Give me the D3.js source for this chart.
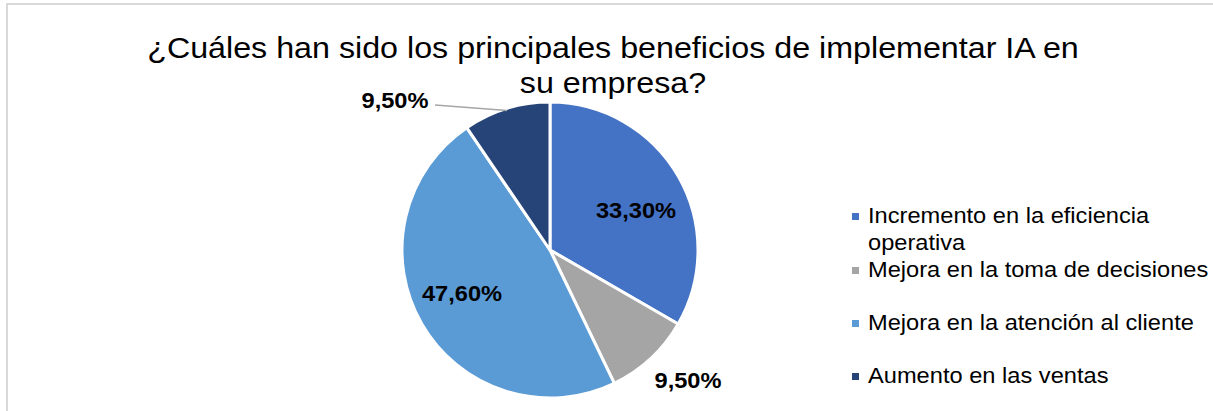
<!DOCTYPE html>
<html>
<head>
<meta charset="utf-8">
<script src="https://cdn.jsdelivr.net/npm/d3@7"></script>
<style>
  body { margin: 0; background: #fff; }
  svg text { font-family: "Liberation Sans", Arial, sans-serif; }
</style>
</head>
<body>
<svg id="chart" width="1213" height="411"></svg>
<script>
// Data
var categories = [
  "Incremento en la eficiencia operativa",
  "Mejora en la toma de decisiones",
  "Mejora en la atención al cliente",
  "Aumento en las ventas"
];
var values = [33.3, 9.5, 47.6, 9.5];
var labels = ["33,30%", "9,50%", "47,60%", "9,50%"];
var colors = ["#4472C4", "#A5A5A5", "#5B9BD5", "#264478"];
var legendLines = [["Incremento en la eficiencia", "operativa"], ["Mejora en la toma de decisiones"], ["Mejora en la atención al cliente"], ["Aumento en las ventas"]];

// text in the original is a bit wider than the font we have
var stretch = 1.075;

var svg = d3.select("#chart");

// chart area border
svg.append("path")
   .attr("d", "M7,411 V4 H1213")
   .attr("fill", "none")
   .attr("stroke", "#d9d9d9")
   .attr("stroke-width", 2);

// title
var titleLines = ["¿Cuáles han sido los principales beneficios de implementar IA en", "su empresa?"];
titleLines.forEach(function(line, i) {
  svg.append("text")
     .attr("transform", "translate(613," + (58 + i * 35) + ") scale(" + stretch + ",1)")
     .attr("text-anchor", "middle")
     .attr("font-size", 30)
     .attr("fill", "#000")
     .text(line);
});

var cx = 550, cy = 250, r = 148;

var pie = d3.pie().sort(null).value(d => d);
var arcs = pie(values);
var arc = d3.arc().innerRadius(0).outerRadius(r);

var g = svg.append("g").attr("transform", "translate(" + cx + "," + cy + ")");

g.selectAll("path.slice")
  .data(arcs)
  .enter()
  .append("path")
  .attr("class", "slice")
  .attr("d", arc)
  .attr("fill", (d, i) => colors[i])
  .attr("stroke", "#fff")
  .attr("stroke-width", 3)
  .attr("stroke-linejoin", "round");

// data label positions (relative to centre), as placed in the original
var labelPos = [[86, -40], [138, 130], [-88, 43], [-155, -150]];

g.selectAll("text.lbl")
  .data(arcs)
  .enter()
  .append("text")
  .attr("class", "lbl")
  .attr("transform", (d, i) => "translate(" + labelPos[i][0] + "," + labelPos[i][1] + ") scale(" + stretch + ",1)")
  .attr("text-anchor", "middle")
  .attr("dy", "0.35em")
  .attr("font-size", 22)
  .attr("font-weight", "bold")
  .attr("fill", "#000")
  .text((d, i) => labels[i]);

// leader line for the last slice
var a4 = (arcs[3].startAngle + arcs[3].endAngle) / 2;
var edge = [Math.sin(a4) * (r - 2), -Math.cos(a4) * (r - 2)];
g.append("polyline")
  .attr("points", [[-115, -145], edge].map(p => p.join(",")).join(" "))
  .attr("fill", "none")
  .attr("stroke", "#a6a6a6")
  .attr("stroke-width", 1.5);

// legend
var legendY = [223, 277, 330, 383];
var legend = svg.append("g");
categories.forEach(function(c, i) {
  var item = legend.append("g");
  item.append("rect")
      .attr("x", 852)
      .attr("y", legendY[i] - 10)
      .attr("width", 7)
      .attr("height", 7)
      .attr("fill", colors[i]);
  legendLines[i].forEach(function(line, j) {
    item.append("text")
        .attr("transform", "translate(868," + (legendY[i] + j * 27) + ") scale(" + stretch + ",1)")
        .attr("font-size", 22)
        .attr("fill", "#000")
        .text(line);
  });
});
</script>
</body>
</html>
